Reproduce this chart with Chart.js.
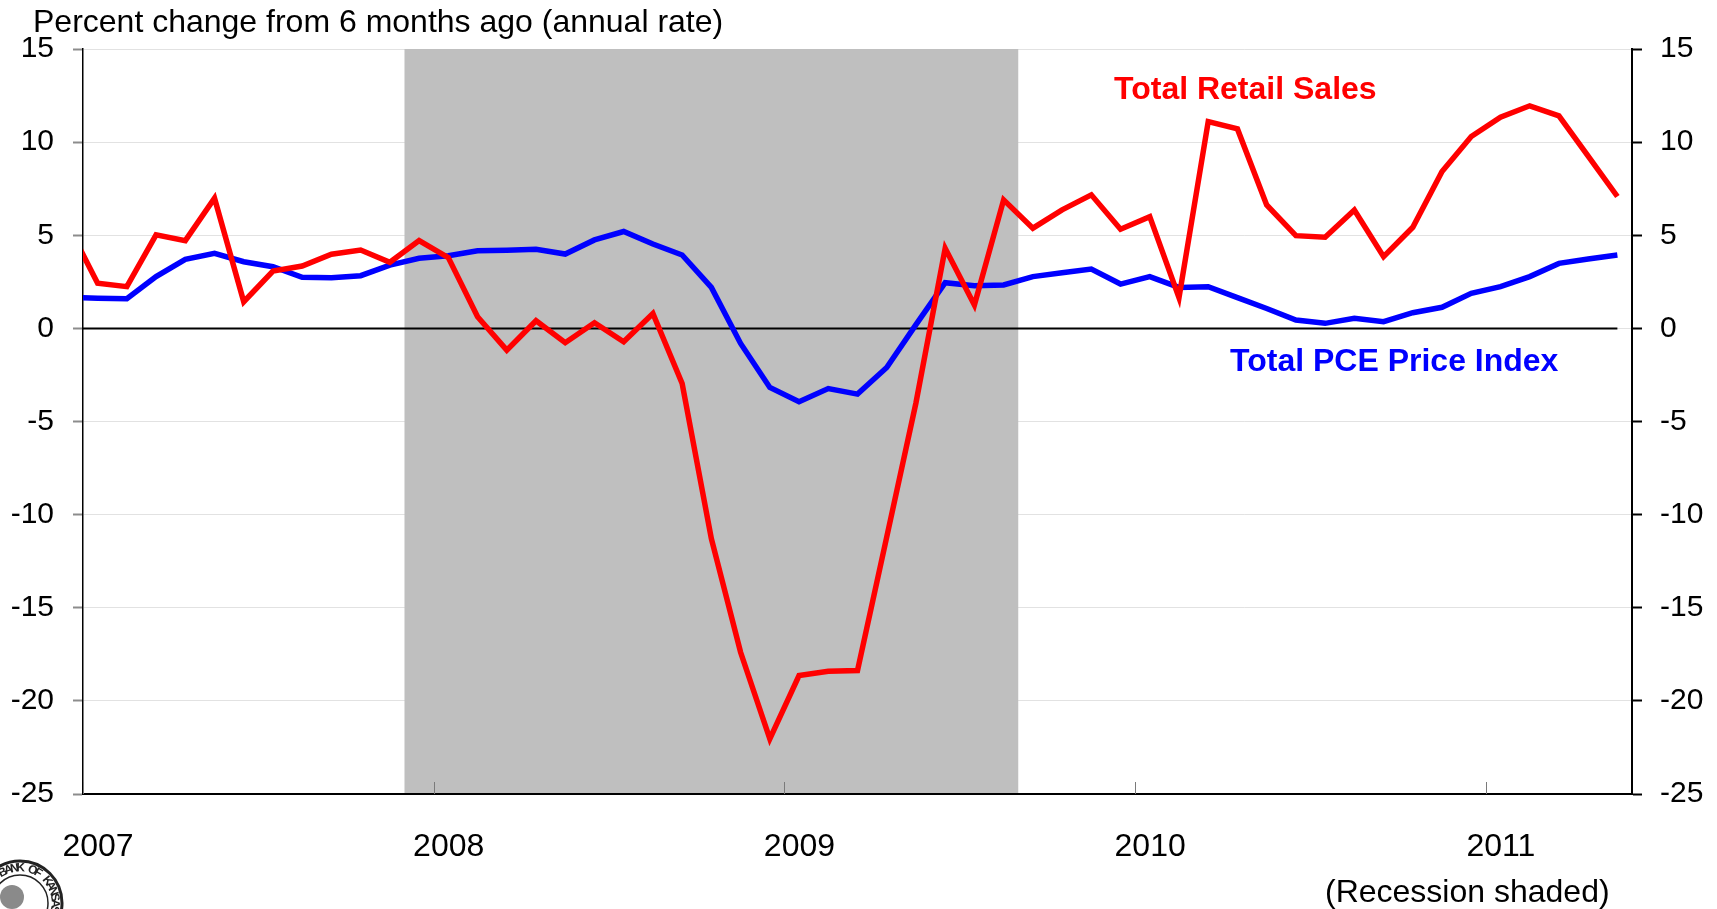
<!DOCTYPE html>
<html>
<head>
<meta charset="utf-8">
<script src="https://cdn.jsdelivr.net/npm/chart.js@4"></script>
<style>
  html, body { margin: 0; padding: 0; background: #fff; }
  #wrap { width: 1717px; height: 909px; }
</style>
</head>
<body>
<div id="wrap"><canvas id="myChart" width="1717" height="909"></canvas></div>
<script>
const FONT = "'Liberation Sans', Arial, Helvetica, sans-serif";

// monthly observations, Dec 2006 .. May 2011
const months = [];
for (let yr = 2006; yr <= 2011; yr++) {
  for (let m = 1; m <= 12; m++) {
    const key = yr + '-' + String(m).padStart(2, '0');
    if (key >= '2006-12' && key <= '2011-05') months.push(key);
  }
}

const retailSales = [
  5.5, 2.42, 2.24, 5.02, 4.71, 6.99, 1.43, 3.08, 3.35, 3.98, 4.21, 3.55, 4.71,
  3.8, 0.62, -1.17, 0.41, -0.77, 0.3, -0.72, 0.8, -2.96, -11.29, -17.39, -22.04,
  -18.64, -18.41, -18.37, -11.2, -4.0, 4.3, 1.25, 6.9, 5.38, 6.36, 7.17, 5.32,
  6.0, 1.65, 11.1, 10.71, 6.63, 4.98, 4.89, 6.36, 3.85, 5.43, 8.42, 10.3,
  11.34, 11.95, 11.41, 9.25, 7.08
];

const pceIndex = [
  1.66, 1.62, 1.59, 2.78, 3.71, 4.03, 3.58, 3.31, 2.74, 2.72, 2.83, 3.4, 3.76,
  3.9, 4.17, 4.2, 4.25, 3.99, 4.75, 5.2, 4.53, 3.94, 2.2, -0.81, -3.17,
  -3.94, -3.23, -3.53, -2.1, 0.2, 2.45, 2.29, 2.33, 2.78, 2.99, 3.19, 2.38,
  2.78, 2.2, 2.24, 1.65, 1.07, 0.45, 0.27, 0.54, 0.36, 0.84, 1.13, 1.88,
  2.24, 2.78, 3.49, 3.72, 3.94
];

const yearLabels = ['2007', '2008', '2009', '2010', '2011'];
const recession = ['2007-12', '2009-08'];   // first and last shaded month
const yTitle = 'Percent change from 6 months ago (annual rate)';

// x value = months since Jan 2007, point sits mid-month
const toPoints = vals => vals.map((v, i) => ({ x: i - 0.5, y: v }));

const decor = {
  id: 'decor',
  beforeDatasetsDraw(chart) {
    const { ctx, chartArea: a, scales: { x, y } } = chart;
    ctx.save();
    // recession shading
    const x0 = x.getPixelForValue(months.indexOf(recession[0]) - 1);
    const x1 = x.getPixelForValue(months.indexOf(recession[1]));
    ctx.fillStyle = '#bfbfbf';
    ctx.fillRect(x0, a.top, x1 - x0, a.bottom - a.top);
    // bottom axis again, over the shading
    ctx.strokeStyle = '#000';
    ctx.lineWidth = 2;
    ctx.beginPath();
    ctx.moveTo(a.left, a.bottom);
    ctx.lineTo(a.right, a.bottom);
    ctx.stroke();
    // short year ticks pointing up
    ctx.strokeStyle = '#7a7a7a';
    ctx.lineWidth = 1;
    x.ticks.forEach(t => {
      const px = Math.round(x.getPixelForValue(t.value)) + 0.5;
      ctx.beginPath();
      ctx.moveTo(px, a.bottom);
      ctx.lineTo(px, a.bottom - 12);
      ctx.stroke();
    });
    // zero line up to last observation
    const yz = y.getPixelForValue(0);
    ctx.strokeStyle = '#000';
    ctx.lineWidth = 2;
    ctx.beginPath();
    ctx.moveTo(a.left, yz);
    ctx.lineTo(x.getPixelForValue(months.length - 1.5), yz);
    ctx.stroke();
    ctx.restore();
  },
  afterDraw(chart) {
    const ctx = chart.ctx;
    ctx.save();
    ctx.textAlign = 'left';
    ctx.textBaseline = 'alphabetic';
    ctx.fillStyle = '#000';
    ctx.font = '32px ' + FONT;
    ctx.fillText(yTitle, 33, 32);
    ctx.fillText('(Recession shaded)', 1325, 902);

    ctx.font = 'bold 32px ' + FONT;
    ctx.fillStyle = '#ff0000';
    ctx.fillText('Total Retail Sales', 1114, 99);
    ctx.fillStyle = '#0000ff';
    ctx.fillText('Total PCE Price Index', 1230, 371);

    // corner of the bank seal
    const cx = 20, cy = 903;
    ctx.strokeStyle = '#222';
    ctx.lineWidth = 3;
    ctx.beginPath();
    ctx.arc(cx, cy, 42, 0, Math.PI * 2);
    ctx.stroke();
    ctx.lineWidth = 1.5;
    ctx.beginPath();
    ctx.arc(cx, cy, 28, 0, Math.PI * 2);
    ctx.stroke();
    ctx.fillStyle = '#8a8a8a';
    ctx.beginPath();
    ctx.ellipse(cx - 8, cy - 6, 12, 12, 0, 0, Math.PI * 2);
    ctx.fill();
    const sealText = 'FEDERAL RESERVE BANK OF KANSAS CITY';
    const ia = sealText.indexOf('ANK OF');
    ctx.fillStyle = '#222';
    ctx.font = 'bold 12px ' + FONT;
    ctx.textAlign = 'center';
    ctx.textBaseline = 'middle';
    for (let i = 0; i < sealText.length; i++) {
      const ang = (-109 + (i - ia) * 10) * Math.PI / 180;
      ctx.save();
      ctx.translate(cx, cy);
      ctx.rotate(ang + Math.PI / 2);
      ctx.fillText(sealText[i], 0, -35);
      ctx.restore();
    }
    ctx.restore();
  }
};

const yTickFont = { size: 30, family: FONT };

const config = {
  type: 'line',
  data: {
    datasets: [
      {
        label: 'Total Retail Sales',
        data: toPoints(retailSales),
        borderColor: '#ff0000',
        borderWidth: 5.5,
        pointRadius: 0,
        tension: 0,
        clip: 0
      },
      {
        label: 'Total PCE Price Index',
        data: toPoints(pceIndex),
        borderColor: '#0000ff',
        borderWidth: 5.5,
        pointRadius: 0,
        tension: 0,
        clip: 0
      }
    ]
  },
  options: {
    responsive: false,
    animation: false,
    devicePixelRatio: 1,
    layout: { padding: { top: 49, left: 0, right: 0, bottom: 0 } },
    plugins: {
      legend: { display: false },
      tooltip: { enabled: false },
      title: { display: false }
    },
    scales: {
      x: {
        type: 'linear',
        min: 0,
        max: 53,
        grid: { display: false, drawTicks: false },
        border: { display: true, color: '#000', width: 2 },
        afterBuildTicks: s => { s.ticks = yearLabels.map((l, i) => ({ value: i * 12 })); },
        ticks: {
          callback: v => yearLabels[Math.round(v / 12)],
          labelOffset: 15,
          padding: 34,
          maxRotation: 0,
          autoSkip: false,
          color: '#000',
          font: { size: 32, family: FONT }
        },
        afterFit: s => { s.height = 115; }
      },
      y: {
        position: 'left',
        min: -25,
        max: 15,
        ticks: { stepSize: 5, padding: 19, color: '#000', font: yTickFont },
        grid: { color: '#e2e2e2', lineWidth: 1, tickColor: '#8c8c8c', tickLength: 10, tickWidth: 2 },
        border: { color: '#000', width: 1.5 },
        afterFit: s => { s.width = 83; }
      },
      y2: {
        position: 'right',
        min: -25,
        max: 15,
        ticks: { stepSize: 5, padding: 18, color: '#000', font: yTickFont },
        grid: { drawOnChartArea: false, tickColor: '#000', tickLength: 10, tickWidth: 2 },
        border: { color: '#000', width: 2 },
        afterFit: s => { s.width = 85; }
      }
    }
  },
  plugins: [decor]
};

const ctx = document.getElementById('myChart').getContext('2d');
const myChart = new Chart(ctx, config);
</script>
</body>
</html>
